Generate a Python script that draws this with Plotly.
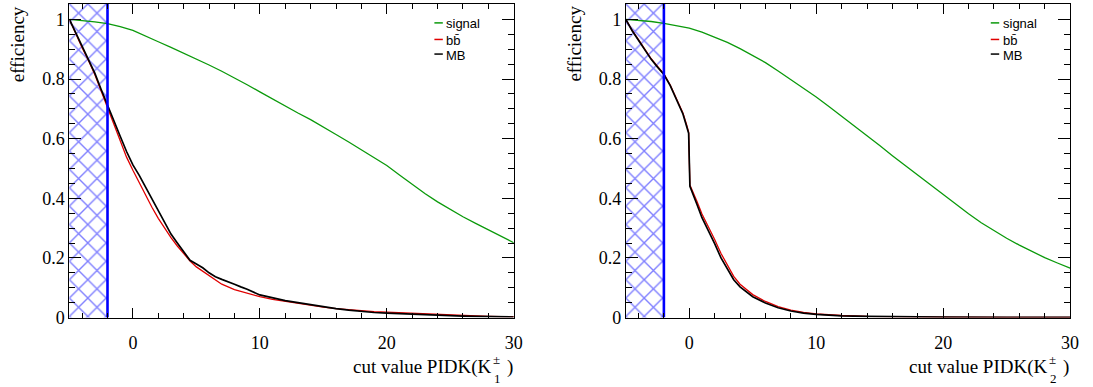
import plotly.graph_objects as go

W, H = 1093, 387

# ---- efficiency vs PIDK cut value -------------------------------------------
cut_grid = list(range(-5, 31))

# K1 panel
k1_signal = [1.000, 0.997, 0.992, 0.986, 0.976, 0.963, 0.945, 0.925, 0.906, 0.887,
             0.867, 0.847, 0.826, 0.804, 0.781, 0.757, 0.733, 0.709, 0.686, 0.664,
             0.640, 0.614, 0.589, 0.563, 0.537, 0.510, 0.478, 0.446, 0.416, 0.388,
             0.362, 0.338, 0.316, 0.294, 0.272, 0.251]

k1_bb_x = [-5, -4.5, -4, -3.5, -3, -2.5, -2, -1.5, -1, -0.5, 0, 0.5, 1, 1.5, 2, 2.5,
           3, 3.5, 4, 4.5, 5, 6, 7, 8, 9, 10, 11, 12, 13, 14, 15, 16, 17, 18, 19, 20,
           21, 22, 23, 24, 25, 26, 27, 28, 29, 30]
k1_bb = [1.000, 0.950, 0.905, 0.862, 0.815, 0.760, 0.706, 0.650, 0.594, 0.538,
         0.494, 0.452, 0.410, 0.370, 0.333, 0.300, 0.268, 0.240, 0.213, 0.190,
         0.170, 0.140, 0.112, 0.094, 0.081, 0.070, 0.061, 0.054, 0.047, 0.041,
         0.035, 0.030, 0.026, 0.023, 0.020, 0.018, 0.016, 0.014, 0.012, 0.010,
         0.008, 0.006, 0.005, 0.004, 0.003, 0.003]

k1_mb_x = [-5, -4.5, -4, -3.5, -3, -2.5, -2, -1.5, -1, -0.5, 0, 0.5, 1, 1.5, 2, 2.5,
           3, 3.5, 4, 4.3, 4.5, 5, 5.5, 6, 6.5, 7, 7.5, 8, 8.5, 9, 10, 11, 12, 13,
           14, 15, 16, 17, 18, 19, 20, 21, 22, 23, 24, 25, 26, 27, 28, 29, 30]
k1_mb = [1.000, 0.955, 0.912, 0.868, 0.820, 0.765, 0.711, 0.660, 0.608, 0.557,
         0.512, 0.477, 0.438, 0.398, 0.356, 0.318, 0.280, 0.250, 0.222, 0.204,
         0.192, 0.180, 0.167, 0.150, 0.137, 0.128, 0.121, 0.112, 0.103, 0.095,
         0.076, 0.066, 0.057, 0.050, 0.043, 0.036, 0.030, 0.025, 0.020, 0.017,
         0.015, 0.013, 0.011, 0.009, 0.008, 0.006, 0.005, 0.004, 0.003, 0.003,
         0.002]

# K2 panel
k2_signal = [1.000, 0.997, 0.993, 0.987, 0.980, 0.971, 0.957, 0.941, 0.923, 0.902,
             0.879, 0.855, 0.827, 0.799, 0.771, 0.740, 0.708, 0.676, 0.643, 0.611,
             0.577, 0.543, 0.510, 0.477, 0.444, 0.412, 0.380, 0.348, 0.318, 0.291,
             0.266, 0.243, 0.221, 0.201, 0.183, 0.166]

k2_bkg_x = [-5, -4.5, -4, -3.5, -3, -2.5, -2, -1.5, -1, -0.5, -0.2, -0.05, 0.05, 0.3,
            0.6, 1, 1.5, 2, 2.5, 3, 3.5, 4, 4.5, 5, 6, 7, 8, 9, 10, 11, 12, 14, 16,
            18, 20, 25, 30]
k2_bb = [1.000, 0.963, 0.932, 0.899, 0.868, 0.842, 0.817, 0.780, 0.731, 0.686,
         0.645, 0.622, 0.445, 0.422, 0.390, 0.347, 0.305, 0.262, 0.215, 0.175,
         0.138, 0.112, 0.093, 0.077, 0.054, 0.037, 0.025, 0.017, 0.012, 0.009,
         0.007, 0.004, 0.003, 0.002, 0.0015, 0.001, 0.0005]
k2_mb = [1.000, 0.962, 0.930, 0.897, 0.866, 0.840, 0.815, 0.778, 0.728, 0.683,
         0.640, 0.618, 0.440, 0.415, 0.380, 0.335, 0.293, 0.248, 0.200, 0.162,
         0.127, 0.103, 0.085, 0.070, 0.049, 0.033, 0.022, 0.015, 0.011, 0.008,
         0.006, 0.004, 0.003, 0.002, 0.0015, 0.001, 0.0005]

# rejected region (PIDK below the cut) and axis ranges
cut_lo, cut_hi = -5, -2
x_range = [-5, 30]
eff_max = 1.052

series_names = ["signal", "b" + "b\u0304", "MB"]
series_colors = ["#0b9a0b", "#e00000", "#000000"]
series_widths = [1.3, 1.3, 1.7]

# ---- layout geometry (pixels) ----------------------------------------------
frame_top, frame_bottom = 4, 326
panel_lr = [(70, 518), (631, 1079)]


def px(x):
    return x / W


def py(y):
    return 1 - y / H


fig = go.Figure()

panels = [
    dict(sig=k1_signal, bb_x=k1_bb_x, bb=k1_bb, mb_x=k1_mb_x, mb=k1_mb, sub="1"),
    dict(sig=k2_signal, bb_x=k2_bkg_x, bb=k2_bb, mb_x=k2_bkg_x, mb=k2_mb, sub="2"),
]

annotations = []
shapes = []
serif = "Liberation Serif"
sans = "Liberation Sans"

for i, p in enumerate(panels):
    xa = "x" if i == 0 else "x2"
    ya = "y" if i == 0 else "y2"

    # hatched cut region
    fig.add_trace(go.Bar(
        x=[(cut_lo + cut_hi) / 2], y=[eff_max], width=[cut_hi - cut_lo],
        xaxis=xa, yaxis=ya, showlegend=False, hoverinfo="skip",
        marker=dict(color="white", line=dict(width=0),
                    pattern=dict(shape="x", size=13, solidity=0.2,
                                 fgcolor="#0000ff", bgcolor="white")),
    ))

    curves = [(cut_grid, p["sig"]), (p["bb_x"], p["bb"]), (p["mb_x"], p["mb"])]
    for (cx, cy), name, col, lw in zip(curves, series_names, series_colors, series_widths):
        fig.add_trace(go.Scatter(
            x=cx, y=cy, mode="lines", name=name, xaxis=xa, yaxis=ya,
            line=dict(color=col, width=lw), showlegend=False,
        ))

    # cut boundary
    fig.add_trace(go.Scatter(
        x=[cut_hi, cut_hi], y=[0, eff_max], mode="lines", xaxis=xa, yaxis=ya,
        line=dict(color="#0000ff", width=2.6), showlegend=False, hoverinfo="skip",
    ))

    left, right = panel_lr[i]

    # y title
    annotations.append(dict(
        text="efficiency", textangle=-90, x=px(left - 51.5), y=py(frame_top),
        xref="paper", yref="paper", xanchor="center", yanchor="top",
        showarrow=False, font=dict(family=serif, size=19, color="black"),
    ))

    # x title with stacked super/subscript
    base_y = 377
    annotations += [
        dict(text="cut value PIDK(K", x=px(right - 20), y=py(base_y),
             xanchor="right", yanchor="middle"),
        dict(text="\u00b1", x=px(right - 17.5), y=py(base_y - 8),
             xanchor="center", yanchor="middle", font=dict(family=serif, size=13, color="black")),
        dict(text=p["sub"], x=px(right - 16.5), y=py(base_y + 12),
             xanchor="center", yanchor="middle", font=dict(family=serif, size=13, color="black")),
        dict(text=")", x=px(right + 1), y=py(base_y),
             xanchor="right", yanchor="middle"),
    ]
    for a in annotations[-4:]:
        a.update(xref="paper", yref="paper", showarrow=False)
        a.setdefault("font", dict(family=serif, size=19, color="black"))

    # legend
    leg_rows = [23.5, 40.5, 55.5]
    for row, name, col in zip(leg_rows, series_names, series_colors):
        shapes.append(dict(type="line", xref="paper", yref="paper",
                           x0=px(right - 80), x1=px(right - 71.5), y0=py(row), y1=py(row),
                           line=dict(color=col, width=1.5)))
        annotations.append(dict(text=name, x=px(right - 70), y=py(row + 1),
                                xref="paper", yref="paper", xanchor="left", yanchor="middle",
                                showarrow=False, font=dict(family=sans, size=13, color="black")))

axis_common = dict(
    showline=True, linecolor="black", linewidth=1, mirror="ticks",
    ticks="inside", tickcolor="black", tickwidth=1,
    showgrid=False, zeroline=False,
    tickfont=dict(family=serif, size=18, color="black"),
)

xa_common = dict(axis_common, range=x_range, tick0=0, dtick=10, ticklen=10,
                 ticklabelstandoff=9,
                 minor=dict(ticks="inside", ticklen=5, dtick=2, tick0=0,
                            tickcolor="black", showgrid=False))
ya_common = dict(axis_common, range=[0, eff_max], tick0=0, dtick=0.2, ticklen=12,
                 minor=dict(ticks="inside", ticklen=6, dtick=0.05, tick0=0,
                            tickcolor="black", showgrid=False))

y_dom = [py(frame_bottom), py(frame_top)]

fig.update_layout(
    width=W, height=H, margin=dict(l=0, r=0, t=0, b=0),
    paper_bgcolor="white", plot_bgcolor="white",
    bargap=0, showlegend=False,
    xaxis=dict(xa_common, domain=[px(panel_lr[0][0]), px(panel_lr[0][1])], anchor="y"),
    yaxis=dict(ya_common, domain=y_dom, anchor="x"),
    xaxis2=dict(xa_common, domain=[px(panel_lr[1][0]), px(panel_lr[1][1])], anchor="y2"),
    yaxis2=dict(ya_common, domain=y_dom, anchor="x2"),
    annotations=annotations, shapes=shapes,
)

fig.write_html("out.html")
